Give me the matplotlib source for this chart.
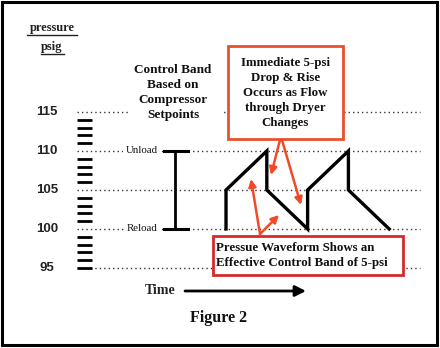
import matplotlib
matplotlib.use("Agg")
import matplotlib.pyplot as plt
from matplotlib.patches import Rectangle

# ---- data ----
time = [0, 0, 1, 1, 2, 2, 3, 3, 4]
pressure = [100, 105, 110, 105, 100, 105, 110, 105, 100]
levels = [115, 110, 105, 100, 95]
level_labels = ["115", "110", "105", "100", "95"]
minor_ticks = [114, 113, 112, 111, 109, 108, 107, 106, 104, 103, 102, 101,
               99, 98, 97, 96, 95]
unload_p = 110
reload_p = 100

SERIF = ["Liberation Serif", "DejaVu Serif"]
SANS = ["Liberation Sans", "DejaVu Sans"]

fig = plt.figure(figsize=(4.4, 3.48), dpi=100)
fig.patch.set_facecolor("white")

# main data axes (time units / psig)
ax = fig.add_axes([0, 0, 1, 1])
ax.set_xlim(-5.54, 5.245)
ax.set_ylim(84.74, 129.36)
ax.axis("off")

x_left, x_right = -3.65, 4.75
for lv in levels:
    ax.plot([x_left, x_right], [lv, lv], color="#333333", lw=1.0,
            ls=(0, (1, 2.2)), zorder=1)
for mt in minor_ticks:
    ax.plot([-3.65, -3.28], [mt, mt], color="black", lw=2.0,
            solid_capstyle="butt", zorder=2)
for lv, lab in zip(levels, level_labels):
    ax.text(-4.39, lv, lab, ha="center", va="center", fontsize=9.5,
            fontweight="bold", family=SANS, color="#222222")

# control band bracket
bx = -1.25
ax.plot([bx, bx], [reload_p, unload_p], color="black", lw=2, zorder=3)
for p in (reload_p, unload_p):
    ax.plot([-1.52, -0.93], [p, p], color="black", lw=2.2, zorder=3)

# waveform
ax.plot(time, pressure, color="black", lw=2.4, solid_joinstyle="miter",
        zorder=4)

# overlay axes in pixel coordinates
ax2 = fig.add_axes([0, 0, 1, 1])
ax2.set_xlim(0, 440)
ax2.set_ylim(348, 0)
ax2.axis("off")
ax2.patch.set_alpha(0)

# frame
ax2.add_patch(Rectangle((2, 2), 434.5, 343, fill=False, ec="black", lw=2.2))

# axis title
ax2.text(52, 28, "pressure", ha="center", va="center", fontsize=9,
         fontweight="bold", family=SERIF, color="#222222")
ax2.plot([27, 77], [35, 35], color="#222222", lw=1)
ax2.text(52, 47, "psig", ha="center", va="center", fontsize=9,
         fontweight="bold", family=SERIF, color="#222222")
ax2.plot([41, 64], [54, 54], color="#222222", lw=1)

# control band text
ax2.add_patch(Rectangle((128, 58), 94, 70, fc="white", ec="none", zorder=2))
ax2.text(173, 92.5, "Control Band\nBased on\nCompressor\nSetpoints",
         ha="center", va="center", fontsize=9.5, fontweight="bold",
         family=SERIF, linespacing=1.3, color="#111111", zorder=3)

ax.text(-1.68, unload_p, "Unload", ha="right", va="center", fontsize=7.8,
        family=SERIF, color="#111111", zorder=3,
        bbox=dict(fc="white", ec="none", pad=1.5))
ax.text(-1.68, reload_p, "Reload", ha="right", va="center", fontsize=7.8,
        family=SERIF, color="#111111", zorder=3,
        bbox=dict(fc="white", ec="none", pad=1.5))

# upper red box
ax2.add_patch(Rectangle((228, 46), 115, 93, fc="white", ec="#e8502e",
                        lw=2, zorder=3))
ax2.text(285.5, 93, "Immediate 5-psi\nDrop & Rise\nOccurs as Flow\nthrough Dryer\nChanges",
         ha="center", va="center", fontsize=9.3, fontweight="bold",
         family=SERIF, linespacing=1.33, color="#111111", zorder=4)

# lower red box
ax2.add_patch(Rectangle((213, 236), 190, 39, fc="white", ec="#d42a2a",
                        lw=2, zorder=3))
ax2.text(216, 255.5, "Pressue Waveform Shows an\nEffective Control Band of 5-psi",
         ha="left", va="center", fontsize=9.3, fontweight="bold",
         family=SERIF, linespacing=1.3, color="#111111", zorder=4)

# red arrows
red = "#f04a28"
arrows = [((280, 140), (271, 175)), ((282, 140), (301, 205)),
          ((260, 234), (251, 179)), ((260, 234), (279, 215))]
for (sx, sy), (ex, ey) in arrows:
    ax2.annotate("", xy=(ex, ey), xytext=(sx, sy),
                 arrowprops=dict(arrowstyle="-|>", color=red, lw=1.8,
                                 mutation_scale=11, shrinkA=0, shrinkB=0),
                 zorder=5)

# time arrow
ax2.text(160, 290, "Time", ha="center", va="center", fontsize=10,
         fontweight="bold", family=SERIF, color="#222222")
ax2.annotate("", xy=(306, 291), xytext=(185, 291),
             arrowprops=dict(arrowstyle="-|>", color="black", lw=2,
                             mutation_scale=16, shrinkA=0, shrinkB=0))

ax2.text(219, 318, "Figure 2", ha="center", va="center", fontsize=11.5,
         fontweight="bold", family=SERIF, color="#111111")

fig.savefig("out.png", dpi=100, facecolor="white")
